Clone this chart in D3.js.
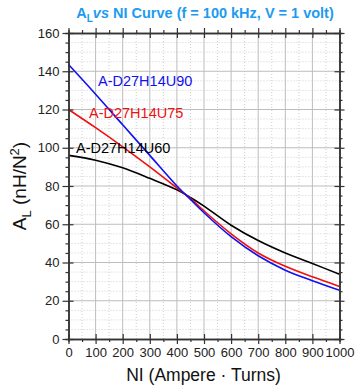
<!DOCTYPE html>
<html><head><meta charset="utf-8">
<script src="https://cdn.jsdelivr.net/npm/d3@7"></script>
<style>body{margin:0;background:#fff}svg{display:block}text{font-family:Arial,"Liberation Sans",sans-serif}</style>
</head><body><svg id="c" width="360" height="386"></svg>
<script>
const ni = [0,100,200,300,400,450,500,600,700,800,900,1000];
const u60 = [96,93.5,89.5,84,78,74,69.5,59.5,51.5,45,39.5,33.8];
const u75 = [120,110.5,100.5,90,79,73.5,67,55,45,38,32.5,27.5];
const u90 = [143.5,128,112,96,80,73,66,53.5,43.5,36,30.5,25.5];
const xTicks = [0,100,200,300,400,500,600,700,800,900,1000];
const yTicks = [0,20,40,60,80,100,120,140,160];
const seriesNames = ["A-D27H14U90","A-D27H14U75","A-D27H14U60"];

const svg = d3.select("#c");
const x = d3.scaleLinear().domain([0,1000]).range([68.5,339.5]);
const y = d3.scaleLinear().domain([0,160]).range([339,33]);
const [x0,x1] = x.range(), [y0,y1] = y.range();

// minor grid
const g = svg.append("g");
d3.range(50,1000,100).forEach(v=>g.append("line").attr("x1",x(v)).attr("x2",x(v)).attr("y1",y0).attr("y2",y1)
  .attr("stroke","#cfcfcf").attr("stroke-dasharray","1,2"));
d3.range(0,160,5).filter(v=>v%20!==0).forEach(v=>g.append("line").attr("x1",x0).attr("x2",x1).attr("y1",y(v)).attr("y2",y(v))
  .attr("stroke","#cfcfcf").attr("stroke-dasharray","1,2"));
// major grid
xTicks.slice(1,-1).forEach(v=>g.append("line").attr("x1",x(v)).attr("x2",x(v)).attr("y1",y0).attr("y2",y1).attr("stroke","#bdbdbd"));
yTicks.slice(1,-1).forEach(v=>g.append("line").attr("x1",x0).attr("x2",x1).attr("y1",y(v)).attr("y2",y(v)).attr("stroke","#bdbdbd"));

// lines
const line = d3.line().x(d=>x(d[0])).y(d=>y(d[1])).curve(d3.curveCatmullRom.alpha(0.5));
const sets = [[u90,"#1010f0"],[u75,"#f01010"],[u60,"#000"]];
sets.slice().reverse().forEach(([s,c])=>svg.append("path").datum(ni.map((n,i)=>[n,s[i]]))
  .attr("d",line).attr("fill","none").attr("stroke",c).attr("stroke-width",1.6));

// axes
const ax = "#333";
function axis(gen, tr){ const a = svg.append("g").attr("transform",tr).call(gen);
  a.select(".domain").attr("stroke",ax).attr("stroke-width",1.5);
  a.selectAll(".tick line").attr("stroke",ax).attr("stroke-width",1.2);
  a.selectAll("text").attr("fill","#222").style("font-size","13px"); return a; }
// minor ticks
const xMinor = d3.range(50,1000,100), yMinor = d3.range(0,161,5).filter(v=>v%20!==0);
axis(d3.axisBottom(x).tickValues(xMinor).tickSize(3).tickFormat(""), `translate(0,${y0})`);
axis(d3.axisTop(x).tickValues(xMinor).tickSize(3).tickFormat(""), `translate(0,${y1})`);
axis(d3.axisLeft(y).tickValues(yMinor).tickSize(3).tickFormat(""), `translate(${x0},0)`);
axis(d3.axisRight(y).tickValues(yMinor).tickSize(3).tickFormat(""), `translate(${x1},0)`);
// major ticks (crossing)
const bx = axis(d3.axisBottom(x).tickValues(xTicks).tickFormat(d3.format("d")).tickSizeInner(5).tickSizeOuter(0).tickPadding(4), `translate(0,${y0})`);
bx.selectAll(".tick line").attr("y1",-5);
const tx = axis(d3.axisTop(x).tickValues(xTicks).tickSizeInner(5).tickSizeOuter(0).tickFormat(""), `translate(0,${y1})`);
tx.selectAll(".tick line").attr("y1",5);
const ly = axis(d3.axisLeft(y).tickValues(yTicks).tickFormat(d3.format("d")).tickSizeInner(6).tickSizeOuter(0).tickPadding(3), `translate(${x0},0)`);
ly.selectAll(".tick line").attr("x1",5);
const ry = axis(d3.axisRight(y).tickValues(yTicks).tickSizeInner(5).tickSizeOuter(0).tickFormat(""), `translate(${x1},0)`);
ry.selectAll(".tick line").attr("x1",-5);

// series labels
const lab = [[seriesNames[0],"#1010f0",98,81],[seriesNames[1],"#f01010",89,113],[seriesNames[2],"#000",76,147.5]];
lab.forEach(([t,c,lx,lyy])=>svg.append("text").attr("x",lx).attr("y",lyy).attr("dy","0.35em")
  .attr("fill",c).style("font-size","14.5px").text(t));

// title
const title = svg.append("text").attr("x",205).attr("y",18).attr("text-anchor","middle")
  .attr("fill","#1e9bf0").style("font-size","14.5px").style("font-weight","bold");
title.append("tspan").text("A");
title.append("tspan").attr("dy",4).style("font-size","10px").text("L");
title.append("tspan").attr("dy",-4).style("font-style","italic").text("vs");
title.append("tspan").text(" NI Curve (f = 100 kHz, V = 1 volt)");

// axis titles
svg.append("text").attr("x",203.5).attr("y",381).attr("text-anchor","middle").attr("fill","#111")
  .style("font-size","17.5px").text("NI (Ampere \u00B7 Turns)");
const yl = svg.append("text").attr("transform",`translate(26,${(y0+y1)/2}) rotate(-90)`).attr("text-anchor","middle")
  .attr("fill","#111").style("font-size","19px");
yl.append("tspan").text("A");
yl.append("tspan").attr("dy",5).style("font-size","13px").text("L");
yl.append("tspan").attr("dy",-5).text(" (nH/N");
yl.append("tspan").attr("dy",-7).style("font-size","13px").text("2");
yl.append("tspan").attr("dy",7).text(")");
</script></body></html>
